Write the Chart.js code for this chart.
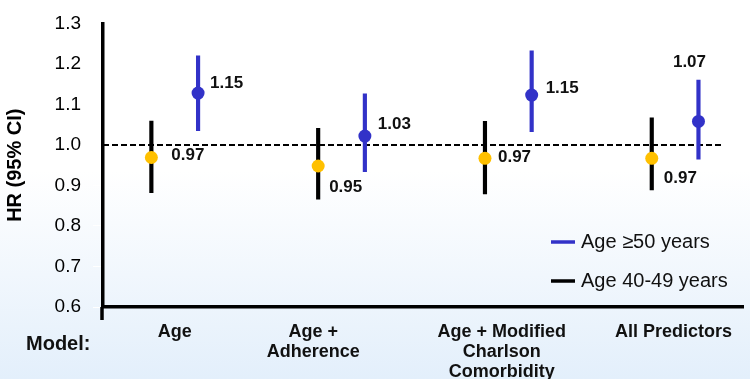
<!DOCTYPE html>
<html>
<head>
<meta charset="utf-8">
<script src="https://cdn.jsdelivr.net/npm/chart.js@4.4.0/dist/chart.umd.min.js"></script>
<style>
  html, body { margin: 0; padding: 0; }
  body { width: 750px; height: 379px; background: linear-gradient(to bottom, #ffffff 0%, #ffffff 45%, #e3effb 100%); }
  #wrap { width: 750px; height: 379px; }
</style>
</head>
<body>
<div id="wrap"><canvas id="canvas" width="750" height="379"></canvas></div>
<script>
// models (x axis categories)
var models = [['Age'], ['Age +', 'Adherence'], ['Age + Modified', 'Charlson', 'Comorbidity'], ['All Predictors']];
var yTicks = [0.6, 0.7, 0.8, 0.9, 1.0, 1.1, 1.2, 1.3];

// Age >=50 years
var oldHR = [1.128, 1.022, 1.123, 1.058];
var oldLow = [1.035, 0.934, 1.033, 0.965];
var oldHigh = [1.220, 1.126, 1.232, 1.160];
var oldText = ['1.15', '1.03', '1.15', '1.07'];

// Age 40-49 years
var youngHR = [0.969, 0.948, 0.967, 0.967];
var youngLow = [0.882, 0.866, 0.879, 0.889];
var youngHigh = [1.059, 1.041, 1.058, 1.067];
var youngText = ['0.97', '0.95', '0.97', '0.97'];

var BLUE = '#3232c8';
var GOLD = '#ffc000';
var shift = 0.14;

function pts(vals, dx) {
    return vals.map(function(v, i){ return {x: i + dx, y: v}; });
}
function bars(lo, hi, dx) {
    return lo.map(function(v, i){ return {x: i + dx, y: [v, hi[i]]}; });
}

// label offsets in pixels from each point
var oldOff = [[12, -10, 'left'], [13, -12, 'left'], [14, -7, 'left'], [-9, -59, 'center']];
var youngOff = [[20, -2, 'left'], [11, 21, 'left'], [13, -1, 'left'], [12, 20, 'left']];
var labelPos = [0, 0.83, 1.96, 2.99];

var extras = {
    id: 'extras',
    afterDatasetsDraw: function(chart) {
        var c = chart.ctx;
        var xs = chart.scales.x, ys = chart.scales.y;
        var area = chart.chartArea;
        c.save();
        // y axis runs a little past the x axis
        c.strokeStyle = '#000';
        c.lineWidth = 3.5;
        c.beginPath(); c.moveTo(area.left - 1, area.bottom); c.lineTo(area.left - 1, area.bottom + 13); c.stroke();

        c.fillStyle = '#111';
        c.font = 'bold 17px Arial, "Liberation Sans"';
        c.textBaseline = 'middle';
        oldHR.forEach(function(v, i){
            var o = oldOff[i];
            c.textAlign = o[2];
            c.fillText(oldText[i], xs.getPixelForValue(i + shift) + o[0], ys.getPixelForValue(v) + o[1]);
        });
        youngHR.forEach(function(v, i){
            var o = youngOff[i];
            c.textAlign = o[2];
            c.fillText(youngText[i], xs.getPixelForValue(i - shift) + o[0], ys.getPixelForValue(v) + o[1]);
        });
        // legend
        c.font = '20px Arial, "Liberation Sans"';
        c.textAlign = 'left';
        c.lineWidth = 3.5;
        c.strokeStyle = BLUE;
        c.beginPath(); c.moveTo(551, 242); c.lineTo(575, 242); c.stroke();
        c.fillText('Age \u226550 years', 581, 242);
        c.strokeStyle = '#000';
        c.beginPath(); c.moveTo(551, 281); c.lineTo(575, 281); c.stroke();
        c.fillText('Age 40-49 years', 581, 281);
        // model caption
        c.font = 'bold 20px Arial, "Liberation Sans"';
        c.fillText('Model:', 26, 344);
        c.restore();
    }
};

var ctx = document.getElementById('canvas').getContext('2d');
var myChart = new Chart(ctx, {
    type: 'bar',
    data: {
        datasets: [{
            type: 'scatter',
            label: 'Age \u226550 years',
            data: pts(oldHR, shift),
            backgroundColor: BLUE,
            borderWidth: 0,
            pointRadius: 6.5
        },
        {
            type: 'scatter',
            label: 'Age 40-49 years',
            data: pts(youngHR, -shift),
            backgroundColor: GOLD,
            borderWidth: 0,
            pointRadius: 6.5
        },
        {
            label: 'CI old',
            data: bars(oldLow, oldHigh, shift),
            backgroundColor: BLUE,
            barThickness: 3.5,
            grouped: false
        },
        {
            label: 'CI young',
            data: bars(youngLow, youngHigh, -shift),
            backgroundColor: '#000',
            barThickness: 3.5,
            grouped: false
        },
        {
            type: 'line',
            label: 'ref',
            data: [{x: -0.43, y: 1}, {x: 3.28, y: 1}],
            borderColor: '#000',
            borderWidth: 2,
            borderDash: [6, 3],
            pointRadius: 0
        }]
    },
    options: {
        responsive: false,
        animation: false,
        layout: { padding: { top: 23, right: 0, left: 0, bottom: 0 } },
        plugins: { legend: { display: false }, tooltip: { enabled: false } },
        scales: {
            x: {
                type: 'linear',
                min: -0.43,
                max: 3.41,
                offset: false,
                grid: { display: false, drawTicks: false },
                border: { display: true, color: '#000', width: 3.5 },
                afterBuildTicks: function(axis) {
                    axis.ticks = labelPos.map(function(v){ return {value: v}; });
                },
                afterFit: function(axis) { axis.height = 72; },
                ticks: {
                    autoSkip: false,
                    maxRotation: 0,
                    padding: 15,
                    color: '#111',
                    font: { family: 'Arial, "Liberation Sans"', size: 18, weight: 'bold', lineHeight: 1.12 },
                    callback: function(v, i) { return models[i]; }
                }
            },
            y: {
                min: 0.6,
                max: 1.3,
                afterBuildTicks: function(axis) {
                    axis.ticks = yTicks.map(function(v){ return {value: v}; });
                },
                afterFit: function(axis) { axis.width = 103; },
                grid: { drawOnChartArea: false, drawTicks: true, tickLength: 10, color: '#ffffff' },
                border: { display: true, color: '#000', width: 3.5 },
                title: {
                    display: true,
                    text: 'HR (95% CI)',
                    color: '#000',
                    font: { family: 'Arial, "Liberation Sans"', size: 20, weight: 'bold' },
                    padding: { top: 3, bottom: 0 }
                },
                ticks: {
                    color: '#000',
                    padding: 12,
                    font: { family: 'Arial, "Liberation Sans"', size: 19 },
                    callback: function(v) { return v.toFixed(1); }
                }
            }
        }
    },
    plugins: [extras]
});
</script>
</body>
</html>
